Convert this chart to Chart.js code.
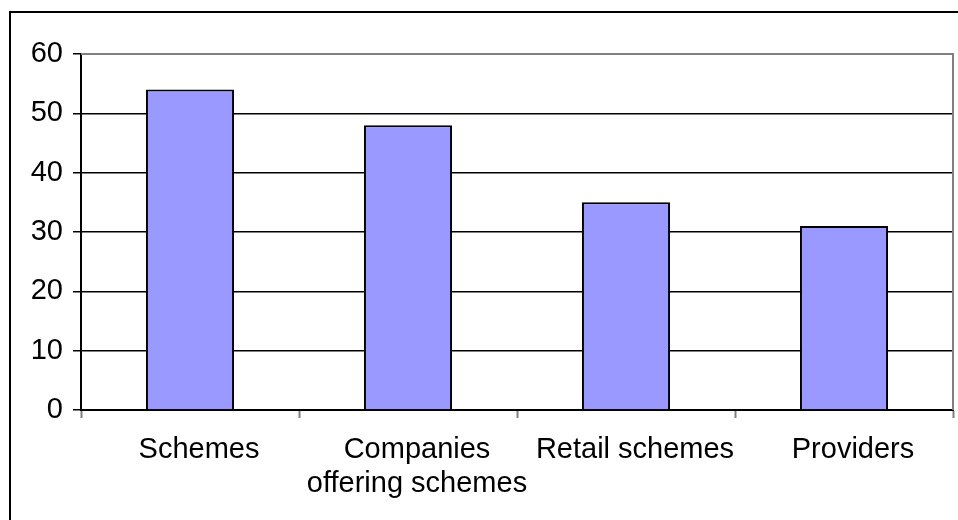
<!DOCTYPE html>
<html>
<head>
<meta charset="utf-8">
<title>Schemes chart</title>
<script src="https://cdn.jsdelivr.net/npm/chart.js@4.4.1/dist/chart.umd.min.js"></script>
<style>
  body { margin: 0; background: #fff; }
  #wrap { width: 958px; height: 520px; position: relative; }
</style>
</head>
<body>
<div id="wrap"><canvas id="myChart"></canvas></div>
<script>
// categories and values
let categories = ['Schemes', ['Companies', 'offering schemes'], 'Retail schemes', 'Providers']
let counts = [54, 48, 35, 31]
let yTicks = [0, 10, 20, 30, 40, 50, 60]

// frame round the whole chart plus the grey plot-area edge
const frame = {
    id: 'frame',
    beforeDraw(chart) {
        let c = chart.ctx
        c.save()
        c.fillStyle = '#fff'
        c.fillRect(0, 0, chart.width, chart.height)
        c.strokeStyle = '#000'
        c.lineWidth = 2
        c.strokeRect(10, 12, chart.width + 20, chart.height + 20)
        c.restore()
    },
    beforeDatasetsDraw(chart) {
        let a = chart.chartArea
        let c = chart.ctx
        c.save()
        c.strokeStyle = '#808080'
        c.lineWidth = 2
        c.beginPath()
        c.moveTo(a.left, a.top)
        c.lineTo(a.right, a.top)
        c.lineTo(a.right, a.bottom)
        c.stroke()
        c.restore()
    }
}

var ctx = document.getElementById('myChart')

new Chart(ctx, {
    type: 'bar',
    data: {
        labels: categories,
        datasets: [{
            label: 'Count',
            data: counts,
            backgroundColor: '#9999ff',
            borderColor: '#000',
            borderWidth: 2,
            categoryPercentage: 1,
            barPercentage: 0.404
        }]
    },
    options: {
        responsive: true,
        maintainAspectRatio: false,
        animation: false,
        layout: {
            padding: { left: 0, right: 5, top: 54, bottom: 0 }
        },
        plugins: {
            legend: { display: false },
            tooltip: { enabled: false }
        },
        scales: {
            x: {
                afterFit(scale) { scale.height = 110 },
                grid: {
                    offset: true,
                    drawOnChartArea: false,
                    tickColor: '#808080',
                    tickLength: 8,
                    tickWidth: 2
                },
                border: { color: '#000', width: 2 },
                ticks: {
                    color: '#000',
                    padding: 15,
                    labelOffset: 9,
                    maxRotation: 0,
                    autoSkip: false,
                    font: { family: 'Liberation Sans', size: 29, lineHeight: 1.18 }
                }
            },
            y: {
                min: 0,
                max: 60,
                afterFit(scale) { scale.width = 81 },
                afterBuildTicks(scale) {
                    scale.ticks = yTicks.map(v => ({ value: v }))
                },
                grid: {
                    color: c => (c.tick && c.tick.value === 60) ? 'rgba(0,0,0,0)' : '#000',
                    lineWidth: 1.5,
                    tickColor: '#000',
                    tickLength: 8
                },
                border: { color: '#000', width: 2 },
                ticks: {
                    color: '#000',
                    padding: 10,
                    font: { family: 'Liberation Sans', size: 29 }
                }
            }
        }
    },
    plugins: [frame]
})
</script>
</body>
</html>
